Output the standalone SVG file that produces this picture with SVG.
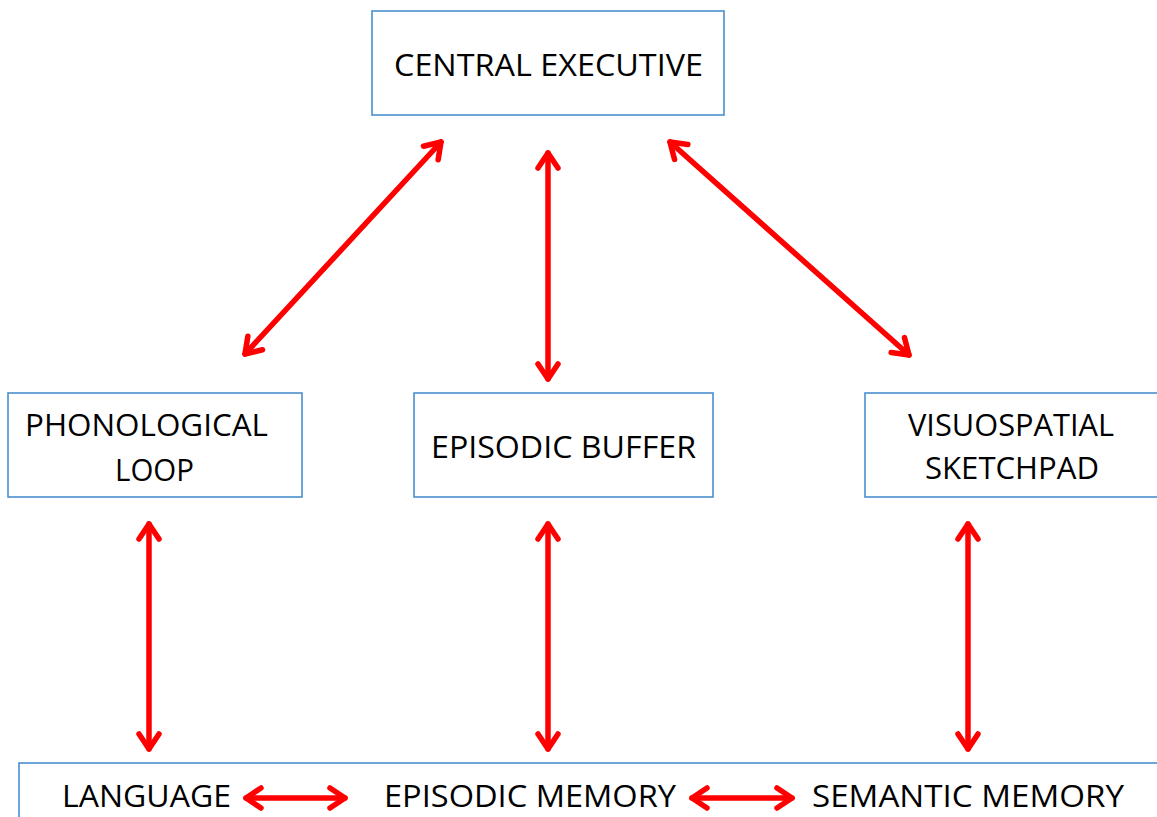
<svg xmlns="http://www.w3.org/2000/svg" width="1157" height="817" viewBox="0 0 1157 817">
  <defs>
    <style>
      .box { fill: #ffffff; stroke: #4a8fcf; stroke-width: 1.6; }
      .lbl { font-family: "Open Sans", "Noto Sans", "Liberation Sans", sans-serif; font-size: 31.5px; fill: #000000; }
      .link { stroke: #ff0000; stroke-width: 5.5; fill: none; stroke-linecap: round; marker-start: url(#head); marker-end: url(#head); }
    </style>
    <marker id="head" markerUnits="userSpaceOnUse" viewBox="-22 -14 26 28" refX="0" refY="0" markerWidth="26" markerHeight="28" orient="auto-start-reverse">
      <path d="M -15 -10 L 0 0 L -15 10" fill="none" stroke="#ff0000" stroke-width="5.5" stroke-linecap="round" stroke-linejoin="round"/>
    </marker>
  </defs>
  <rect width="1157" height="817" fill="#ffffff"/>

  <g id="central-executive">
    <rect class="box" x="372" y="11" width="352" height="104"/>
    <text class="lbl" x="394" y="76" textLength="309" lengthAdjust="spacingAndGlyphs">CENTRAL EXECUTIVE</text>
  </g>

  <g id="phonological-loop">
    <rect class="box" x="8" y="393" width="294" height="104"/>
    <text class="lbl" x="25" y="436" textLength="243" lengthAdjust="spacingAndGlyphs">PHONOLOGICAL</text>
    <text class="lbl" x="115" y="481" textLength="79" lengthAdjust="spacingAndGlyphs">LOOP</text>
  </g>

  <g id="episodic-buffer">
    <rect class="box" x="414" y="393" width="299" height="104"/>
    <text class="lbl" x="431" y="458" textLength="265" lengthAdjust="spacingAndGlyphs">EPISODIC BUFFER</text>
  </g>

  <g id="visuospatial-sketchpad">
    <rect class="box" x="865" y="393" width="320" height="104"/>
    <text class="lbl" x="908" y="436" textLength="206" lengthAdjust="spacingAndGlyphs">VISUOSPATIAL</text>
    <text class="lbl" x="925" y="479" textLength="174" lengthAdjust="spacingAndGlyphs">SKETCHPAD</text>
  </g>

  <g id="long-term-memory">
    <rect class="box" x="19" y="763" width="1160" height="80"/>
    <text class="lbl" x="62" y="807" textLength="169" lengthAdjust="spacingAndGlyphs">LANGUAGE</text>
    <text class="lbl" x="384" y="807" textLength="292" lengthAdjust="spacingAndGlyphs">EPISODIC MEMORY</text>
    <text class="lbl" x="812" y="807" textLength="312" lengthAdjust="spacingAndGlyphs">SEMANTIC MEMORY</text>
  </g>

  <g id="connectors">
    <line class="link" x1="441" y1="142" x2="245" y2="354"/>
    <line class="link" x1="548" y1="153" x2="548" y2="379"/>
    <line class="link" x1="670" y1="142" x2="909" y2="355"/>
    <line class="link" x1="149" y1="524" x2="149" y2="749"/>
    <line class="link" x1="548" y1="524" x2="548" y2="749"/>
    <line class="link" x1="968" y1="524" x2="968" y2="749"/>
    <line class="link" x1="246" y1="798" x2="345" y2="798"/>
    <line class="link" x1="692" y1="798" x2="792" y2="798"/>
  </g>
</svg>
